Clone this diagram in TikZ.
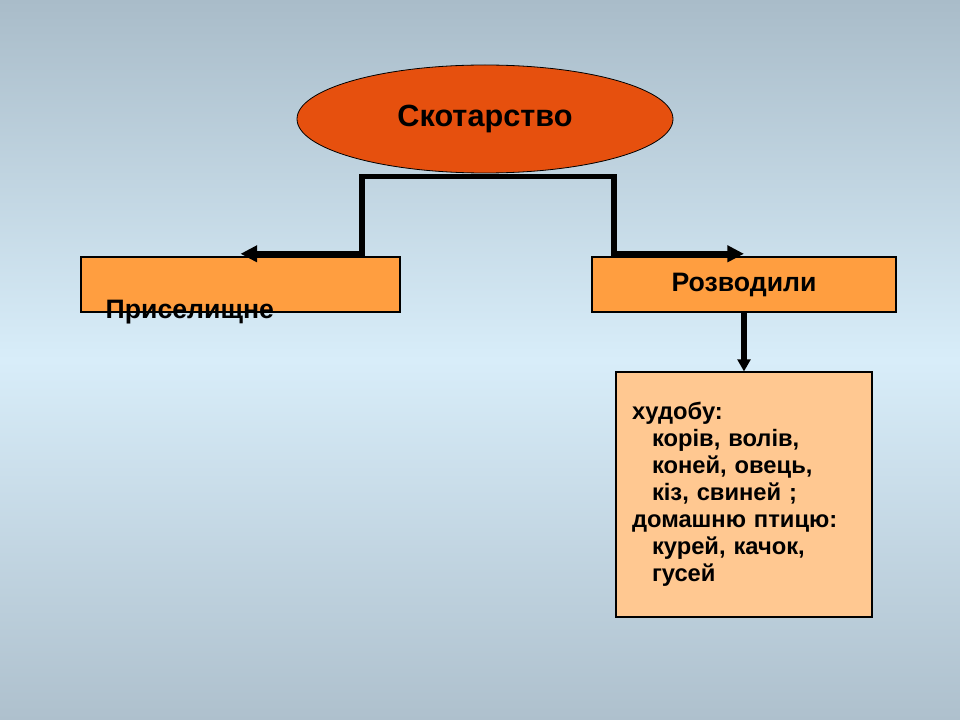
\documentclass[tikz,border=0pt]{standalone}
\usepackage{fontspec}
\setmainfont{Liberation Sans}
\usetikzlibrary{positioning,arrows.meta,shapes.geometric}

\definecolor{bgtop}{RGB}{169,188,201}
\definecolor{bgmid}{RGB}{216,237,249}
\definecolor{bgbot}{RGB}{174,192,205}
\definecolor{skotfill}{RGB}{230,80,14}
\definecolor{boxfill}{RGB}{255,158,64}
\definecolor{listfill}{RGB}{255,200,145}

\begin{document}
\begin{tikzpicture}[
    x=0.75pt, y=-0.75pt,
    font=\bfseries,
    mainnode/.style={
        ellipse,
        draw=black,
        fill=skotfill,
        line width=0.6pt,
        inner sep=0pt,
        minimum width=282pt,
        minimum height=81pt,
        font=\fontsize{23}{27}\selectfont\bfseries
    },
    catbox/.style={
        rectangle,
        draw=black,
        fill=boxfill,
        line width=0.8pt,
        inner sep=0pt,
        minimum height=41.25pt,
        font=\fontsize{20}{24}\selectfont\bfseries
    },
    listbox/.style={
        rectangle,
        draw=black,
        fill=listfill,
        line width=0.8pt,
        inner xsep=12pt,
        inner ysep=0pt,
        text width=168pt,
        align=left,
        minimum height=183.75pt,
        font=\fontsize{17.8}{20.3}\selectfont\bfseries
    },
    link/.style={
        draw=black,
        line width=4pt,
        -{Triangle[length=12.5pt,width=12pt]}
    },
    downlink/.style={
        draw=black,
        line width=3.8pt,
        -{Triangle[length=9pt,width=9.5pt]}
    }
]

% Background
\begin{scope}[y=0.75pt]
\shade[top color=bgtop, bottom color=bgbot, middle color=bgmid] (0,-720) rectangle (960,0);
\end{scope}
\useasboundingbox (0,0) rectangle (960,720);

% Nodes
\node[mainnode] (skot) at (485,119) {Скотарство};
\node[catbox, minimum width=239.25pt] (pris) at (240.5,284.5) {};
\node[anchor=base west, font=\fontsize{20}{24}\selectfont\bfseries] (prislabel) at (101,319) {Приселищне};
\node[catbox, minimum width=228pt] (rozv) at (744,284.5) {Розводили};
\node[listbox, minimum width=192pt] (hud) at (744,494.5) {
    худобу:\\
    \hspace*{15pt}корів, волів,\\
    \hspace*{15pt}коней, овець,\\
    \hspace*{15pt}кіз, свиней ;\\
    домашню птицю:\\
    \hspace*{15pt}курей, качок,\\
    \hspace*{15pt}гусей
};

% Bend points
\coordinate (bendL) at (362,215);
\coordinate (bendR) at (614,215);

% Connections
\draw[link] ([yshift=-2.5pt]skot.south) -| (bendL) |- ([yshift=2pt]pris.north);
\draw[link] ([yshift=-2.5pt]skot.south) -| (bendR) |- ([yshift=2pt]rozv.north);
\draw[downlink] (rozv.south) -- (hud.north);

\end{tikzpicture}
\end{document}
